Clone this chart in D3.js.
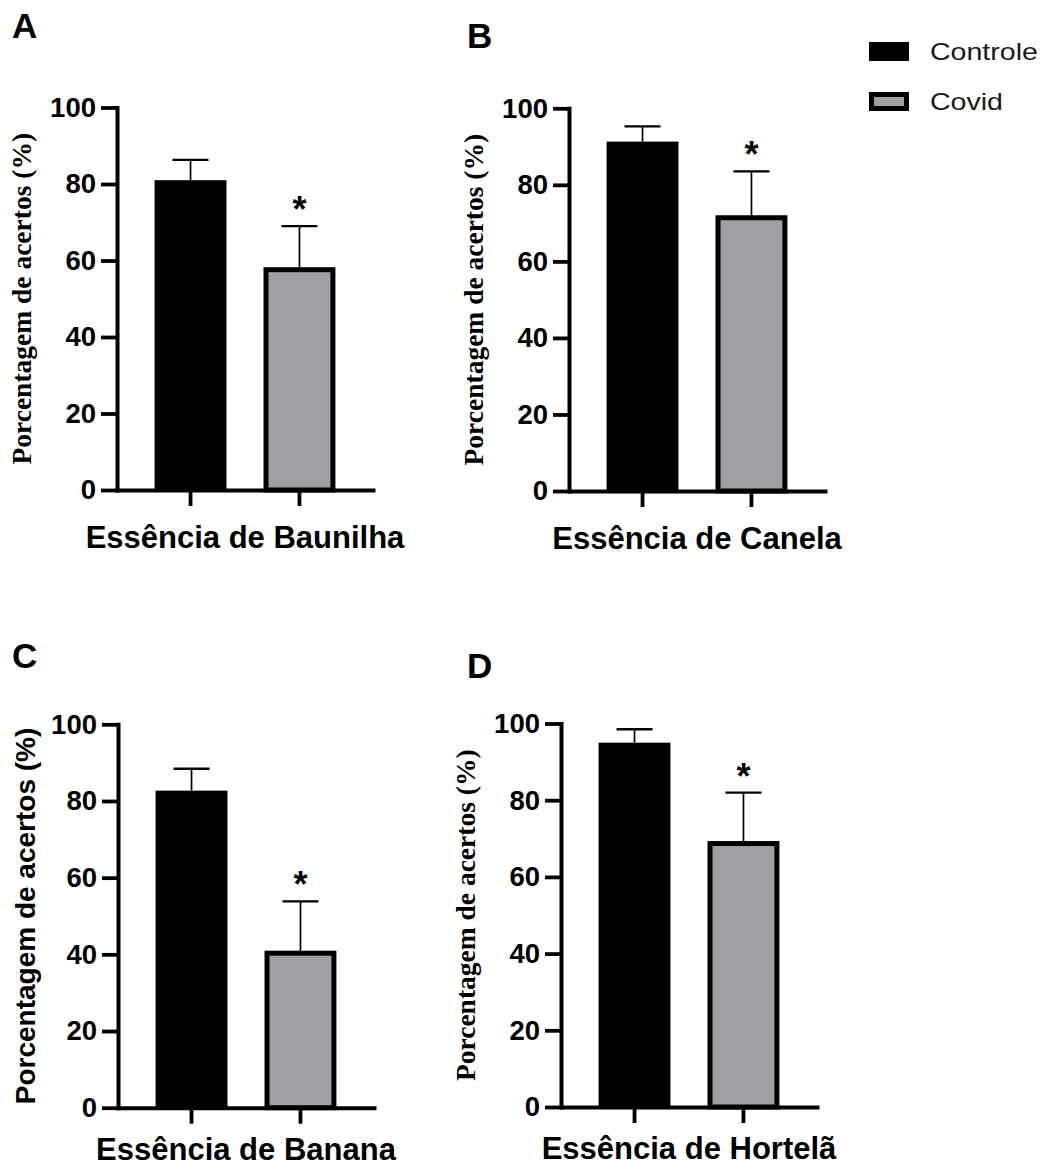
<!DOCTYPE html>
<html><head><meta charset="utf-8">
<script src="https://cdn.jsdelivr.net/npm/d3@7"></script>
<style>body{margin:0;background:#fff} svg{display:block}</style>
</head><body><svg id="chart" width="1057" height="1168"></svg>
<script>
// ---- data ----
const panelLetters = ["A", "B", "C", "D"];
const essences = ["Essência de Baunilha", "Essência de Canela", "Essência de Banana", "Essência de Hortelã"];
const groups = ["Controle", "Covid"];
const controleMean = [81.0, 91.3, 82.7, 95.0];
const controleSD = [5.3, 4.0, 5.7, 3.5];
const covidMean = [57.6, 71.4, 40.3, 68.7];
const covidSD = [11.4, 12.1, 13.5, 13.3];
const significance = ["*", "*", "*", "*"];
const yTicks = [0, 20, 40, 60, 80, 100];
const yTitle = "Porcentagem de acertos (%)";

// ---- layout / style ----
const SANS = "Arial, 'Liberation Sans', Helvetica, sans-serif";
const SERIF = "'Times New Roman', 'Liberation Serif', serif";
const groupFill = ["#000000", "#a09fa4"];
const layout = [
  {ax: 117, yTop: 107.5, yBot: 490, lx: 12, ly: 38, xl: 58, tf: SERIF, tfs: 27.5, toff: 86},
  {ax: 569, yTop: 108.3, yBot: 491, lx: 467, ly: 48, xl: 58, tf: SERIF, tfs: 27.5, toff: 86},
  {ax: 118, yTop: 724.3, yBot: 1107.7, lx: 12, ly: 668, xl: 52, tf: SANS, tfs: 28, toff: 83},
  {ax: 561, yTop: 723.5, yBot: 1107, lx: 467, ly: 678, xl: 52, tf: SERIF, tfs: 27.5, toff: 86}
];
const axisLen = 256;

const svg = d3.select("#chart");

panelLetters.forEach((letter, i) => {
  const L = layout[i];
  const g = svg.append("g");
  const y = d3.scaleLinear().domain([0, 100]).range([L.yBot, L.yTop]);
  const x = d3.scaleBand().domain(groups).range([L.ax, L.ax + axisLen])
    .paddingInner(0.34).paddingOuter(0.345).align(0.5);
  const means = [controleMean[i], covidMean[i]];
  const sds = [controleSD[i], covidSD[i]];

  // panel letter
  g.append("text").attr("x", L.lx).attr("y", L.ly).text(letter)
    .attr("font-family", SANS).attr("font-weight", "bold").attr("font-size", 35);

  // bars
  groups.forEach((grp, j) => {
    const bx = x(grp), bw = x.bandwidth();
    if (j === 0) {
      g.append("rect").attr("x", bx).attr("y", y(means[j])).attr("width", bw)
        .attr("height", y(0) - y(means[j])).attr("fill", groupFill[j]);
    } else {
      g.append("rect").attr("x", bx + 2.5).attr("y", y(means[j])).attr("width", bw - 5)
        .attr("height", y(0) - y(means[j])).attr("fill", groupFill[j])
        .attr("stroke", "#000").attr("stroke-width", 5);
    }
    const cx = bx + bw / 2;
    const top = y(means[j] + sds[j]);
    g.append("line").attr("x1", cx).attr("x2", cx).attr("y1", y(means[j])).attr("y2", top)
      .attr("stroke", "#000").attr("stroke-width", 1.7);
    g.append("line").attr("x1", cx - 18).attr("x2", cx + 18).attr("y1", top).attr("y2", top)
      .attr("stroke", "#000").attr("stroke-width", 2.3);
    if (j === 1) {
      g.append("text").attr("x", cx).attr("y", top - 4).attr("text-anchor", "middle")
        .attr("font-family", SANS).attr("font-weight", "bold").attr("font-size", 36)
        .text(significance[i]);
    }
  });

  // y axis
  const ya = g.append("g").attr("transform", `translate(${L.ax},0)`)
    .call(d3.axisLeft(y).tickValues(yTicks).tickSize(16).tickSizeOuter(0).tickPadding(5));
  ya.select(".domain").attr("stroke-width", 4).attr("stroke-linecap", "square");
  ya.selectAll(".tick line").attr("stroke-width", 3.8);
  ya.selectAll(".tick text").attr("font-family", SANS).attr("font-weight", "bold")
    .attr("font-size", 27.5).attr("fill", "#000");

  // x axis
  const xa = g.append("g").attr("transform", `translate(0,${L.yBot})`)
    .call(d3.axisBottom(x).tickSize(16).tickSizeOuter(0).tickFormat(""));
  xa.select(".domain").attr("stroke-width", 4).attr("stroke-linecap", "square");
  xa.selectAll(".tick line").attr("stroke-width", 3.8);

  // x label
  g.append("text").attr("x", L.ax + axisLen / 2).attr("y", L.yBot + L.xl)
    .attr("text-anchor", "middle").attr("font-family", SANS).attr("font-weight", "bold")
    .attr("font-size", 31).text(essences[i]);

  // y title
  g.append("text").attr("transform", `translate(${L.ax - L.toff},${(L.yTop + L.yBot) / 2}) rotate(-90)`)
    .attr("text-anchor", "middle").attr("font-family", L.tf).attr("font-weight", "bold")
    .attr("font-size", L.tfs).text(yTitle);
});

// legend
const leg = svg.append("g");
groups.forEach((grp, j) => {
  const ly = 42 + j * 50;
  if (j === 0) {
    leg.append("rect").attr("x", 869).attr("y", ly).attr("width", 40).attr("height", 19).attr("fill", groupFill[j]);
  } else {
    leg.append("rect").attr("x", 871.5).attr("y", ly + 2.5).attr("width", 35).attr("height", 14)
      .attr("fill", groupFill[j]).attr("stroke", "#000").attr("stroke-width", 5);
  }
  leg.append("text").attr("transform", `translate(930,${ly + 18}) scale(1.19,1)`)
    .attr("font-family", SANS).attr("font-size", 24).attr("fill", "#1a1a1a").text(grp);
});
</script></body></html>
